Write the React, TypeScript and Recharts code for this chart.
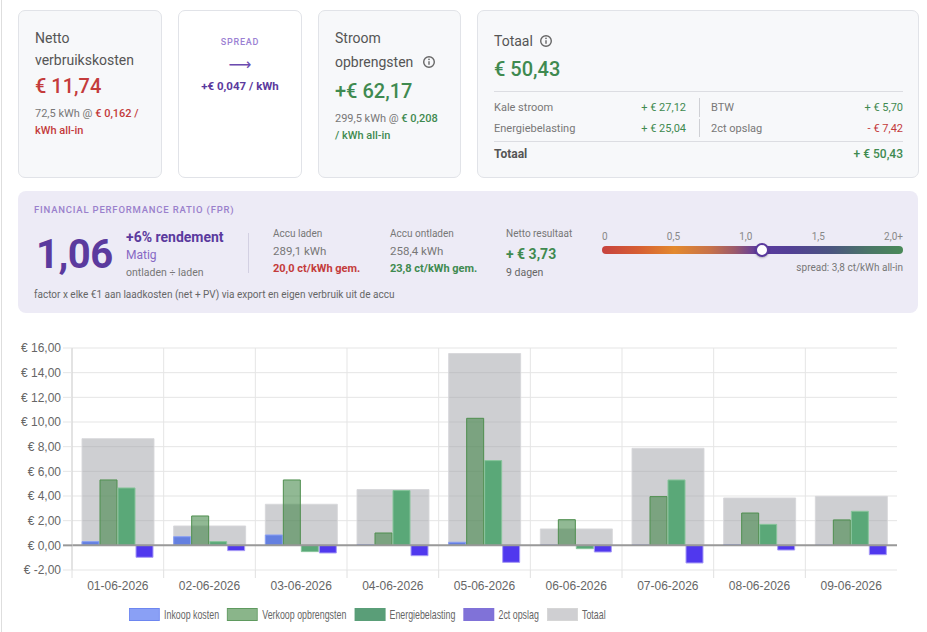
import React from 'react';
import { BarChart, Bar, XAxis, YAxis, CartesianGrid, ReferenceLine } from 'recharts';

// ---- Daily figures (euro) ----
const days = ['01-06-2026', '02-06-2026', '03-06-2026', '04-06-2026', '05-06-2026', '06-06-2026', '07-06-2026', '08-06-2026', '09-06-2026'];
const inkoopKosten = [0.3, 0.7, 0.84, 0.05, 0.25, 0.02, 0.02, 0.05, 0.01];
const verkoopOpbrengsten = [5.3, 2.38, 5.3, 1.0, 10.3, 2.08, 3.95, 2.62, 2.06];
const energiebelasting = [4.65, 0.3, -0.51, 4.44, 6.87, -0.27, 5.3, 1.7, 2.76];
const opslag2ct = [-0.97, -0.43, -0.62, -0.84, -1.38, -0.54, -1.43, -0.38, -0.76];
const totaal = [8.65, 1.57, 3.33, 4.52, 15.55, 1.33, 7.87, 3.84, 3.97];
const yTicks = [-2, 0, 2, 4, 6, 8, 10, 12, 14, 16];

// ---- Ratio scale ----
const fprValue = 1.06;
const fprMax = 2;
const fprScaleLabels = ['0', '0,5', '1,0', '1,5', '2,0+'];

const data = days.map((day, i) => ({
  day,
  inkoop: inkoopKosten[i],
  verkoop: verkoopOpbrengsten[i],
  energie: energiebelasting[i],
  opslag: opslag2ct[i],
  totaal: totaal[i],
}));

const legendItems = [
  { label: 'Inkoop kosten', fill: '#8aa0f5', border: '#6d86f0' },
  { label: 'Verkoop opbrengsten', fill: '#8ab58a', border: '#5f9a5f' },
  { label: 'Energiebelasting', fill: '#5a9e78', border: '#5a9e78' },
  { label: '2ct opslag', fill: '#8072d8', border: '#8072d8' },
  { label: 'Totaal', fill: '#cfcfd2', border: '#d6d6d6' },
];

const FONT = 'Roboto, "Noto Sans", sans-serif';
const CHART_FONT = '"Liberation Sans", Arial, sans-serif';
const GREEN = '#3f8a50';
const RED = '#c43b3b';
const PURPLE = '#5b3a9e';
const PAGE_W = 927;

const euro = (v: number) => `€ ${v.toFixed(2).replace('.', ',')}`;

type TxtProps = {
  x: number;
  cy: number;
  size: number;
  color?: string;
  weight?: number;
  lh?: number;
  anchor?: 'start' | 'end' | 'middle';
  ls?: number;
  family?: string;
  children: React.ReactNode;
};

function Txt({ x, cy, size, color = '#555', weight = 400, lh, anchor = 'start', ls, family, children }: TxtProps) {
  const lineH = lh ?? Math.round(size * 1.4);
  const style: React.CSSProperties = {
    position: 'absolute',
    top: cy - lineH / 2,
    lineHeight: `${lineH}px`,
    fontSize: size,
    color,
    fontWeight: weight,
    whiteSpace: 'nowrap',
    fontFamily: family ?? FONT,
    letterSpacing: ls,
  };
  if (anchor === 'start') style.left = x;
  else if (anchor === 'end') style.right = PAGE_W - x;
  else {
    style.left = x - 200;
    style.width = 400;
    style.textAlign = 'center';
  }
  return <div style={style}>{children}</div>;
}

function Box({ x, y, w, h, bg, border, radius }: { x: number; y: number; w: number; h: number; bg: string; border?: string; radius: number }) {
  return (
    <div
      style={{
        position: 'absolute',
        left: x,
        top: y,
        width: w,
        height: h,
        background: bg,
        border: border ? `1px solid ${border}` : undefined,
        borderRadius: radius,
        boxSizing: 'border-box',
      }}
    />
  );
}

function Rule({ x, y, w, h, color }: { x: number; y: number; w: number; h: number; color: string }) {
  return <div style={{ position: 'absolute', left: x, top: y, width: w, height: h, background: color }} />;
}

function InfoIcon({ cx, cy }: { cx: number; cy: number }) {
  return (
    <svg style={{ position: 'absolute', left: cx - 7, top: cy - 7 }} width={14} height={14} viewBox="0 0 14 14">
      <circle cx={7} cy={7} r={5.3} fill="none" stroke="#666" strokeWidth={1.4} />
      <line x1={7} y1={6.2} x2={7} y2={9.8} stroke="#666" strokeWidth={1.4} />
      <circle cx={7} cy={4.3} r={0.85} fill="#666" />
    </svg>
  );
}

const PLOT_LEFT = 72;
const PLOT_W = 825;
const STEP = PLOT_W / days.length;

function XTick(props: any) {
  const { x, y, payload } = props;
  const top = y - 10;
  return (
    <g>
      <line x1={x - STEP / 2} x2={x - STEP / 2} y1={top} y2={top + 8} stroke="#e0e0e0" strokeWidth={1} />
      <text x={x} y={y + 1} dy="0.71em" textAnchor="middle" fill="#666" fontSize={12} fontFamily={CHART_FONT}>
        {payload.value}
      </text>
    </g>
  );
}

function YTick(props: any) {
  const { x, y, payload } = props;
  const isZero = payload.value === 0;
  return (
    <g>
      <line
        x1={x + 2}
        x2={x + 11}
        y1={y}
        y2={y}
        stroke={isZero ? '#999' : '#e5e5e5'}
        strokeWidth={isZero ? 2 : 1}
      />
      <text x={x} y={y} dy="0.35em" textAnchor="end" fill="#666" fontSize={12} fontFamily={CHART_FONT}>
        {euro(payload.value)}
      </text>
    </g>
  );
}

function DailyChart() {
  return (
    <div style={{ position: 'absolute', left: 0, top: 335 }}>
      <BarChart
        width={910}
        height={260}
        data={data}
        margin={{ top: 13, right: 13, bottom: 0, left: 0 }}
        barCategoryGap={10}
        barGap={1}
      >
        <CartesianGrid
          stroke="#e5e5e5"
          verticalCoordinatesGenerator={({ offset }: any) =>
            days.map((_, i) => offset.left + (i * offset.width) / days.length)
          }
        />
        <XAxis
          dataKey="day"
          xAxisId="main"
          height={25}
          tickSize={8}
          tickMargin={2}
          tickLine={false}
          axisLine={false}
          interval={0}
          tick={<XTick />}
        />
        <XAxis dataKey="day" xAxisId="sum" hide />
        <YAxis
          width={PLOT_LEFT}
          domain={[-2, 16]}
          ticks={yTicks}
          interval={0}
          tickSize={9}
          tickMargin={2}
          tickLine={false}
          axisLine={{ stroke: '#d4d4d4' }}
          tick={<YTick />}
        />
        <Bar
          dataKey="totaal"
          xAxisId="sum"
          fill="rgba(158,160,165,0.5)"
          stroke="rgba(215,215,218,0.9)"
          strokeWidth={1}
          isAnimationActive={false}
        />
        <Bar
          dataKey="inkoop"
          xAxisId="main"
          fill="rgba(50,90,230,0.68)"
          stroke="#8aa0f5"
          strokeWidth={1}
          isAnimationActive={false}
        />
        <Bar
          dataKey="verkoop"
          xAxisId="main"
          fill="rgba(55,128,60,0.55)"
          stroke="#4f8f4f"
          strokeWidth={1}
          isAnimationActive={false}
        />
        <Bar
          dataKey="energie"
          xAxisId="main"
          fill="#5aa878"
          stroke="#86c49a"
          strokeWidth={1}
          isAnimationActive={false}
        />
        <Bar
          dataKey="opslag"
          xAxisId="main"
          fill="#5038ee"
          stroke="#a79bf5"
          strokeWidth={1}
          isAnimationActive={false}
        />
        <ReferenceLine y={0} xAxisId="main" stroke="#999" strokeWidth={2} />
      </BarChart>
    </div>
  );
}

// Legend drawn horizontally condensed, like the stretched canvas legend
function ChartLegend() {
  return (
    <div
      style={{
        position: 'absolute',
        left: 129,
        top: 608,
        display: 'flex',
        alignItems: 'center',
        fontFamily: CHART_FONT,
        fontSize: 13,
        color: '#666',
        whiteSpace: 'nowrap',
        transform: 'scaleX(0.68)',
        transformOrigin: '0 0',
      }}
    >
      {legendItems.map((it) => (
        <div key={it.label} style={{ display: 'flex', alignItems: 'center', marginRight: 12 }}>
          <div
            style={{
              width: 45,
              height: 13,
              boxSizing: 'border-box',
              background: it.fill,
              border: `1.5px solid ${it.border}`,
              marginRight: 6.5,
            }}
          />
          <span style={{ lineHeight: '13px' }}>{it.label}</span>
        </div>
      ))}
    </div>
  );
}

function FprScale() {
  const left = 602;
  const width = 301;
  const knobX = left + (width * Math.min(fprValue, fprMax)) / fprMax;
  return (
    <>
      <div
        style={{
          position: 'absolute',
          left,
          top: 231,
          width,
          display: 'flex',
          justifyContent: 'space-between',
          fontFamily: FONT,
          fontSize: 10,
          lineHeight: '12px',
          color: '#888',
        }}
      >
        {fprScaleLabels.map((l) => (
          <span key={l}>{l}</span>
        ))}
      </div>
      <div
        style={{
          position: 'absolute',
          left,
          top: 246,
          width,
          height: 8,
          borderRadius: 4,
          background:
            'linear-gradient(90deg, #c7423f 0%, #d65e33 12%, #e3892e 24%, #c7724a 36%, #9c5a6a 44%, #5c3aa0 52%, #533f96 62%, #4b5580 76%, #4a7468 88%, #4a8a58 100%)',
        }}
      />
      <div
        style={{
          position: 'absolute',
          left: knobX - 7,
          top: 243,
          width: 14,
          height: 14,
          boxSizing: 'border-box',
          borderRadius: '50%',
          background: '#fff',
          border: `2.5px solid ${PURPLE}`,
          boxShadow: '0 1px 2px rgba(0,0,0,0.25)',
        }}
      />
    </>
  );
}

export default function App() {
  return (
    <div style={{ position: 'absolute', left: 0, top: 0, width: PAGE_W, height: 632, background: '#fff', overflow: 'hidden', fontFamily: FONT }}>
      <Rule x={1} y={0} w={1} h={632} color="#dedede" />

      {/* Netto verbruikskosten */}
      <Box x={18} y={10} w={144} h={168} bg="#f7f8fa" border="#e1e3e8" radius={7} />
      <Txt x={35} cy={38} size={14}>Netto</Txt>
      <Txt x={35} cy={60} size={14}>verbruikskosten</Txt>
      <Txt x={35} cy={86} size={20} weight={500} color={RED}>€ 11,74</Txt>
      <Txt x={35} cy={113} size={11} color="#777">
        72,5 kWh @ <span style={{ color: RED, fontWeight: 500 }}>€ 0,162 /</span>
      </Txt>
      <Txt x={35} cy={130} size={11} color={RED} weight={500}>kWh all-in</Txt>

      {/* Spread */}
      <Box x={178} y={10} w={124} h={168} bg="#ffffff" border="#e1e3e8" radius={7} />
      <Txt x={240} cy={42} size={9} anchor="middle" color="#9b80d3" ls={0.8} weight={500}>SPREAD</Txt>
      <Txt x={240} cy={65} size={16} anchor="middle" color="#6b4bb0" family='"DejaVu Sans", sans-serif'>⟶</Txt>
      <Txt x={240} cy={86} size={11.5} anchor="middle" color={PURPLE} weight={700}>+€ 0,047 / kWh</Txt>

      {/* Stroom opbrengsten */}
      <Box x={318} y={10} w={143} h={168} bg="#f7f8fa" border="#e1e3e8" radius={7} />
      <Txt x={335} cy={38} size={14}>Stroom</Txt>
      <Txt x={335} cy={62} size={14}>opbrengsten</Txt>
      <InfoIcon cx={429} cy={62} />
      <Txt x={335} cy={91} size={20} weight={500} color={GREEN}>+€ 62,17</Txt>
      <Txt x={335} cy={118} size={11} color="#777">
        299,5 kWh @ <span style={{ color: GREEN, fontWeight: 500 }}>€ 0,208</span>
      </Txt>
      <Txt x={335} cy={135} size={11} color={GREEN} weight={500}>/ kWh all-in</Txt>

      {/* Totaal */}
      <Box x={477} y={10} w={442} h={168} bg="#f7f8fa" border="#e1e3e8" radius={7} />
      <Txt x={494} cy={41} size={14}>Totaal</Txt>
      <InfoIcon cx={546} cy={41} />
      <Txt x={494} cy={69} size={20} weight={500} color={GREEN}>€ 50,43</Txt>
      <Rule x={494} y={91} w={409} h={1} color="#dcdde2" />
      <Txt x={494} cy={107} size={11} color="#777">Kale stroom</Txt>
      <Txt x={686} cy={107} size={11} color={GREEN} anchor="end">+ € 27,12</Txt>
      <Rule x={699} y={98} w={1} h={19} color="#cfd0d5" />
      <Txt x={711} cy={107} size={11} color="#777">BTW</Txt>
      <Txt x={903} cy={107} size={11} color={GREEN} anchor="end">+ € 5,70</Txt>
      <Txt x={494} cy={128} size={11} color="#777">Energiebelasting</Txt>
      <Txt x={686} cy={128} size={11} color={GREEN} anchor="end">+ € 25,04</Txt>
      <Rule x={699} y={119} w={1} h={18} color="#cfd0d5" />
      <Txt x={711} cy={128} size={11} color="#777">2ct opslag</Txt>
      <Txt x={903} cy={128} size={11} color={RED} anchor="end">- € 7,42</Txt>
      <Rule x={494} y={141} w={409} h={1} color="#dcdde2" />
      <Txt x={494} cy={154} size={12} color="#555" weight={700}>Totaal</Txt>
      <Txt x={903} cy={154} size={12} color={GREEN} weight={500} anchor="end">+ € 50,43</Txt>

      {/* Financial performance ratio */}
      <Box x={18} y={191} w={900} h={122} bg="#edebf6" radius={8} />
      <Txt x={34} cy={209} size={9.5} color="#9a80cc" ls={0.8} weight={500}>FINANCIAL PERFORMANCE RATIO (FPR)</Txt>
      <Txt x={36} cy={255} size={40} lh={46} color={PURPLE} weight={700} ls={-0.5}>
        {fprValue.toFixed(2).replace('.', ',')}
      </Txt>
      <Txt x={126} cy={237} size={14} color={PURPLE} weight={700}>+6% rendement</Txt>
      <Txt x={126} cy={255} size={12} color="#8668c4">Matig</Txt>
      <Txt x={126} cy={272} size={10.5} color="#777">ontladen ÷ laden</Txt>
      <Rule x={248} y={233} w={1} h={40} color="#d3d0e2" />
      <Txt x={273} cy={234} size={10} color="#777">Accu laden</Txt>
      <Txt x={273} cy={251} size={11.5} color="#777">289,1 kWh</Txt>
      <Txt x={273} cy={268} size={11} color={RED} weight={700}>20,0 ct/kWh gem.</Txt>
      <Txt x={390} cy={234} size={10} color="#777">Accu ontladen</Txt>
      <Txt x={390} cy={251} size={11.5} color="#777">258,4 kWh</Txt>
      <Txt x={390} cy={268} size={11} color={GREEN} weight={700}>23,8 ct/kWh gem.</Txt>
      <Txt x={506} cy={234} size={10} color="#777">Netto resultaat</Txt>
      <Txt x={506} cy={254} size={14} color={GREEN} weight={700}>+ € 3,73</Txt>
      <Txt x={506} cy={272} size={10.5} color="#666">9 dagen</Txt>
      <FprScale />
      <Txt x={903} cy={268} size={10} color="#777" anchor="end">spread: 3,8 ct/kWh all-in</Txt>
      <Txt x={34} cy={295} size={10} color="#666">
        factor x elke €1 aan laadkosten (net + PV) via export en eigen verbruik uit de accu
      </Txt>

      <DailyChart />
      <ChartLegend />
    </div>
  );
}
